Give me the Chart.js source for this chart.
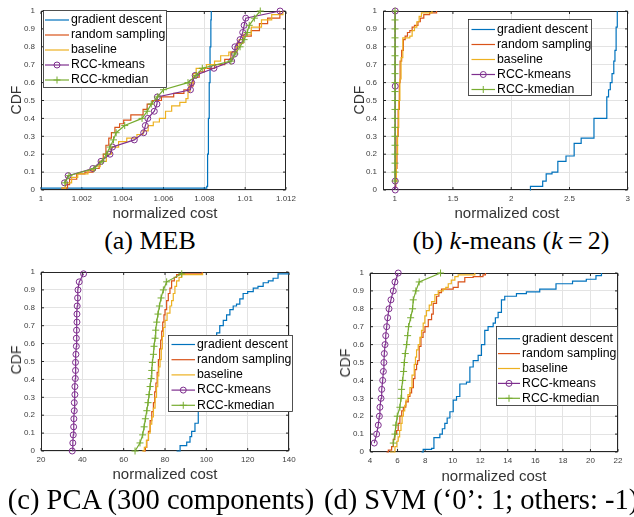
<!DOCTYPE html>
<html lang="en">
<head>
<meta charset="UTF-8">
<title>CDF of normalized cost</title>
<script src="https://cdn.jsdelivr.net/npm/chart.js@4.4.0/dist/chart.umd.min.js"></script>
<style>
  body { margin: 0; background: #fff; }
  #page { position: relative; width: 634px; height: 517px; overflow: hidden; font-family: "Liberation Sans", Arial, sans-serif; }
  #page canvas { position: absolute; }
  .ytitle { position: absolute; transform: translate(-50%, -50%) rotate(-90deg); font-size: 14px; color: #333; white-space: nowrap; }
  .xtitle { position: absolute; transform: translate(-50%, -50%); font-size: 15px; color: #333; white-space: nowrap; }
  .caption { position: absolute; transform: translateY(-50%); font-family: "Liberation Serif", "Times New Roman", serif; font-size: 26px; color: #000; white-space: nowrap; }
  .caption.c { transform: translate(-50%, -50%); }
  .caption.big { font-size: 28.5px; }
</style>
</head>
<body>
<div id="page">
  <canvas id="cA" width="300" height="220" style="left:0px;top:0px"></canvas>
  <canvas id="cB" width="292" height="220" style="left:342px;top:0px"></canvas>
  <canvas id="cC" width="300" height="220" style="left:0px;top:261px"></canvas>
  <canvas id="cD" width="305" height="220" style="left:329px;top:262px"></canvas>

  <div class="ytitle" style="left:16px;top:100px">CDF</div>
  <div class="ytitle" style="left:359px;top:100px">CDF</div>
  <div class="ytitle" style="left:16px;top:360px">CDF</div>
  <div class="ytitle" style="left:345px;top:363px">CDF</div>
  <div class="xtitle" style="left:165px;top:212px">normalized cost</div>
  <div class="xtitle" style="left:507px;top:212px">normalized cost</div>
  <div class="xtitle" style="left:165px;top:473px">normalized cost</div>
  <div class="xtitle" style="left:494px;top:475px">normalized cost</div>

  <div class="caption c" style="left:150px;top:241px">(a) MEB</div>
  <div class="caption c" style="left:511px;top:241px">(b) <i>k</i>-means (<i>k</i>&#8201;=&#8201;2)</div>
  <div class="caption c big" style="left:161px;top:500px">(c) PCA (300 components)</div>
  <div class="caption big" style="left:324px;top:500px">(d) SVM (‘0’: 1; others: -1)</div>
</div>

<script>
// ---------- series ----------
const seriesNames = ['gradient descent', 'random sampling', 'baseline', 'RCC-kmeans', 'RCC-kmedian'];
const seriesColors = ['#0072BD', '#D95319', '#EDB120', '#7E2F8E', '#77AC30'];
const cdfTicks = [0, 0.1, 0.2, 0.3, 0.4, 0.5, 0.6, 0.7, 0.8, 0.9, 1];

// (a) MEB
const mebTicks = [1, 1.002, 1.004, 1.006, 1.008, 1.01, 1.012];
const mebGdX = [1.0, 1.0081, 1.00812, 1.00816, 1.0082, 1.00824, 1.00828, 1.00832, 1.00834];
const mebGdY = [0.01, 0.01, 0.02, 0.2, 0.4, 0.6, 0.8, 0.95, 1.0];
const mebRsX = [1.001, 1.0013, 1.0014, 1.00175, 1.00215, 1.00255, 1.00285, 1.00305, 1.00318, 1.00332, 1.00345, 1.00362, 1.00385, 1.00405, 1.0044, 1.005, 1.0052, 1.00545, 1.0059, 1.0065, 1.007, 1.00725, 1.00745, 1.00775, 1.008, 1.0085, 1.009, 1.0093, 1.0096, 1.0099, 1.0103, 1.0107, 1.0111, 1.0117];
const mebRsY = [0.01, 0.03, 0.06, 0.09, 0.1, 0.12, 0.16, 0.2, 0.25, 0.29, 0.32, 0.35, 0.37, 0.39, 0.42, 0.45, 0.48, 0.5, 0.52, 0.54, 0.56, 0.58, 0.63, 0.66, 0.68, 0.7, 0.73, 0.77, 0.82, 0.86, 0.89, 0.93, 0.96, 1.0];
const mebBlX = [1.001, 1.0012, 1.0015, 1.0018, 1.0023, 1.00265, 1.0029, 1.0032, 1.00345, 1.0038, 1.0042, 1.0047, 1.005, 1.00525, 1.0055, 1.0058, 1.0061, 1.0064, 1.0068, 1.0071, 1.0072, 1.0073, 1.00745, 1.0076, 1.0081, 1.0085, 1.0088, 1.0092, 1.00955, 1.0097, 1.0099, 1.0103, 1.0108, 1.0113, 1.01185];
const mebBlY = [0.01, 0.04, 0.07, 0.09, 0.11, 0.13, 0.16, 0.2, 0.24, 0.27, 0.29, 0.31, 0.33, 0.36, 0.38, 0.4, 0.44, 0.47, 0.49, 0.51, 0.55, 0.6, 0.65, 0.68, 0.7, 0.72, 0.75, 0.77, 0.8, 0.84, 0.87, 0.91, 0.95, 0.98, 1.0];
const mebKmX = [1.00115, 1.00133, 1.00254, 1.00294, 1.00338, 1.0035, 1.00457, 1.00503, 1.00511, 1.00523, 1.00555, 1.00568, 1.0057, 1.00732, 1.00738, 1.00755, 1.00847, 1.00934, 1.00948, 1.0095, 1.00975, 1.00988, 1.00995, 1.01003, 1.01171];
const mebKmY = [0.04, 0.08, 0.12, 0.16, 0.2, 0.24, 0.28, 0.32, 0.36, 0.4, 0.44, 0.48, 0.52, 0.56, 0.6, 0.64, 0.68, 0.72, 0.76, 0.8, 0.84, 0.88, 0.92, 0.96, 1.0];
const mebKdX = [1.00117, 1.00137, 1.0026, 1.003, 1.0032, 1.00338, 1.00355, 1.00368, 1.0041, 1.00495, 1.0052, 1.0054, 1.0057, 1.006, 1.0072, 1.0076, 1.0079, 1.0093, 1.0095, 1.00975, 1.00995, 1.0101, 1.0102, 1.01045, 1.01074];
const mebKdY = [0.04, 0.08, 0.12, 0.16, 0.2, 0.24, 0.28, 0.32, 0.36, 0.4, 0.44, 0.48, 0.52, 0.56, 0.6, 0.64, 0.68, 0.72, 0.76, 0.8, 0.84, 0.88, 0.92, 0.96, 1.0];

// (b) k-means (k = 2)
const kmTicks = [1, 1.5, 2, 2.5, 3];
const kmGdX = [2.16, 2.165, 2.27, 2.3, 2.35, 2.4, 2.47, 2.54, 2.6, 2.71, 2.82, 2.835, 2.85, 2.865, 2.88, 2.89, 2.9, 2.91];
const kmGdY = [0.0, 0.02, 0.05, 0.09, 0.1, 0.16, 0.19, 0.26, 0.29, 0.4, 0.52, 0.56, 0.6, 0.65, 0.72, 0.78, 0.91, 1.0];
const kmRsX = [1.0, 1.01, 1.02, 1.03, 1.04, 1.047, 1.06, 1.075, 1.09, 1.11, 1.13, 1.15, 1.17, 1.2, 1.22, 1.25, 1.3, 1.36];
const kmRsY = [0.02, 0.12, 0.3, 0.45, 0.6, 0.72, 0.78, 0.84, 0.86, 0.88, 0.89, 0.91, 0.92, 0.94, 0.96, 0.98, 0.99, 1.0];
const kmBlX = [1.005, 1.015, 1.025, 1.035, 1.045, 1.055, 1.07, 1.1, 1.13, 1.15, 1.17, 1.19, 1.21, 1.23, 1.28, 1.32];
const kmBlY = [0.05, 0.2, 0.35, 0.5, 0.62, 0.74, 0.85, 0.85, 0.86, 0.89, 0.91, 0.94, 0.97, 0.99, 0.99, 1.0];
const kmKmX = [1.005, 1.005, 1.005, 1.005];
const kmKmY = [0.0, 0.05, 0.58, 1.0];
const kmKdX = [1.003, 1.003, 1.003, 1.003, 1.003, 1.003, 1.003, 1.003, 1.003, 1.003, 1.003, 1.003, 1.003, 1.003, 1.003, 1.003, 1.003, 1.003, 1.003, 1.003];
const kmKdY = [0.05, 0.1, 0.15, 0.2, 0.25, 0.3, 0.35, 0.4, 0.45, 0.5, 0.55, 0.6, 0.65, 0.7, 0.75, 0.8, 0.85, 0.9, 0.95, 1.0];

// (c) PCA (300 components)
const pcaTicks = [20, 40, 60, 80, 100, 120, 140];
const pcaGdX = [85.6, 87.3, 89.5, 90.5, 92.1, 92.9, 94.5, 96.1, 97.0, 98.5, 100.5, 102.0, 103.5, 105.0, 106.5, 108.2, 109.8, 111.4, 113.0, 114.6, 116.2, 117.8, 120.0, 122.7, 125.0, 127.5, 130.0, 132.3, 134.7, 140.0];
const pcaGdY = [0.0, 0.03, 0.03, 0.05, 0.08, 0.11, 0.155, 0.23, 0.32, 0.38, 0.45, 0.52, 0.6, 0.66, 0.7, 0.73, 0.76, 0.79, 0.81, 0.82, 0.85, 0.88, 0.89, 0.91, 0.92, 0.94, 0.95, 0.965, 0.99, 0.99];
const pcaRsX = [69.5, 70.5, 71.2, 72.0, 72.8, 73.6, 74.4, 75.0, 75.6, 76.2, 76.8, 77.4, 77.9, 78.4, 78.9, 79.5, 80.0, 80.8, 81.6, 82.4, 83.2, 84.5, 85.6, 87.3, 98.0];
const pcaRsY = [0.0, 0.02, 0.06, 0.11, 0.17, 0.22, 0.27, 0.33, 0.38, 0.44, 0.51, 0.57, 0.62, 0.67, 0.72, 0.76, 0.79, 0.84, 0.88, 0.91, 0.95, 0.97, 0.985, 0.99, 1.0];
const pcaBlX = [68.8, 70.0, 71.0, 72.0, 72.8, 73.6, 74.4, 75.2, 75.9, 76.5, 77.0, 77.6, 78.2, 78.7, 79.3, 80.0, 81.0, 82.4, 83.2, 84.0, 84.8, 85.6, 86.8, 88.1, 98.2];
const pcaBlY = [0.0, 0.02, 0.06, 0.1, 0.15, 0.19, 0.24, 0.3, 0.36, 0.42, 0.47, 0.51, 0.57, 0.64, 0.69, 0.73, 0.77, 0.81, 0.84, 0.88, 0.92, 0.95, 0.97, 0.985, 0.995];
const pcaKmX = [35.1, 35.4, 35.6, 35.8, 35.9, 36.1, 36.1, 36.4, 36.4, 36.6, 36.7, 36.7, 36.9, 37.1, 37.1, 37.2, 37.4, 37.4, 37.5, 37.7, 37.9, 38.5, 40.6];
const pcaKmY = [0.0, 0.045, 0.09, 0.135, 0.18, 0.225, 0.27, 0.315, 0.36, 0.405, 0.45, 0.495, 0.54, 0.585, 0.63, 0.675, 0.72, 0.765, 0.81, 0.855, 0.9, 0.945, 0.99];
const pcaKdX = [65.5, 67.9, 69.2, 69.9, 70.5, 71.2, 71.8, 72.3, 72.8, 73.3, 73.6, 73.9, 74.4, 74.7, 75.2, 75.5, 76.0, 76.6, 77.3, 78.1, 79.2, 80.8, 88.1];
const pcaKdY = [0.0, 0.045, 0.09, 0.135, 0.18, 0.225, 0.27, 0.315, 0.36, 0.405, 0.45, 0.495, 0.54, 0.585, 0.63, 0.675, 0.72, 0.765, 0.81, 0.855, 0.9, 0.945, 0.99];

// (d) SVM ('0': 1; others: -1)
const svmTicks = [4, 6, 8, 10, 12, 14, 16, 18, 20, 22];
const svmGdX = [7.74, 7.86, 8.47, 8.64, 8.95, 9.07, 9.25, 9.43, 9.6, 9.8, 10.04, 10.28, 10.52, 11.0, 11.25, 11.49, 11.85, 12.09, 12.33, 12.57, 12.94, 13.1, 13.3, 13.54, 13.78, 14.63, 15.35, 16.32, 17.5, 18.7, 19.7, 20.4, 20.8];
const svmGdY = [0.0, 0.015, 0.02, 0.08, 0.08, 0.1, 0.13, 0.16, 0.19, 0.225, 0.29, 0.31, 0.38, 0.39, 0.475, 0.51, 0.54, 0.6, 0.68, 0.7, 0.72, 0.75, 0.78, 0.85, 0.87, 0.885, 0.895, 0.91, 0.94, 0.955, 0.965, 0.985, 1.0];
const svmRsX = [5.2, 5.33, 5.57, 5.69, 5.8, 5.93, 6.05, 6.17, 6.3, 6.42, 6.6, 6.78, 6.9, 7.02, 7.15, 7.26, 7.38, 7.45, 7.57, 7.7, 7.85, 7.99, 8.23, 8.47, 8.59, 8.83, 9.0, 9.19, 10.04, 10.4, 10.88, 11.49, 12.2, 12.38];
const svmRsY = [0.0, 0.01, 0.03, 0.07, 0.1, 0.12, 0.16, 0.2, 0.23, 0.25, 0.28, 0.31, 0.33, 0.36, 0.41, 0.46, 0.49, 0.51, 0.59, 0.64, 0.67, 0.7, 0.74, 0.77, 0.83, 0.87, 0.89, 0.91, 0.92, 0.95, 0.975, 0.98, 0.99, 1.0];
const svmBlX = [5.45, 5.81, 5.95, 6.05, 6.15, 6.25, 6.33, 6.42, 6.52, 6.61, 6.75, 6.9, 7.05, 7.21, 7.3, 7.38, 7.5, 7.62, 7.74, 7.86, 7.98, 8.1, 8.3, 8.47, 8.71, 8.95, 9.31, 9.5, 9.68, 9.9, 10.16, 10.4, 11.61];
const svmBlY = [0.0, 0.03, 0.06, 0.085, 0.12, 0.16, 0.2, 0.23, 0.26, 0.29, 0.32, 0.36, 0.43, 0.49, 0.53, 0.57, 0.6, 0.64, 0.68, 0.72, 0.76, 0.79, 0.82, 0.84, 0.88, 0.9, 0.91, 0.92, 0.94, 0.96, 0.98, 0.99, 1.0];
const svmKmX = [4.31, 4.48, 4.6, 4.68, 4.72, 4.8, 4.85, 4.92, 4.97, 5.01, 5.04, 5.09, 5.14, 5.21, 5.28, 5.38, 5.52, 5.69, 5.81, 6.05];
const svmKmY = [0.05, 0.1, 0.15, 0.2, 0.25, 0.3, 0.35, 0.4, 0.45, 0.5, 0.55, 0.6, 0.65, 0.7, 0.75, 0.8, 0.85, 0.9, 0.95, 1.0];
const svmKdX = [5.69, 5.81, 5.88, 5.98, 6.17, 6.25, 6.29, 6.37, 6.44, 6.49, 6.56, 6.66, 6.73, 6.8, 6.95, 7.09, 7.14, 7.33, 7.57, 9.12];
const svmKdY = [0.05, 0.1, 0.15, 0.2, 0.25, 0.3, 0.35, 0.4, 0.45, 0.5, 0.55, 0.6, 0.65, 0.7, 0.75, 0.8, 0.85, 0.9, 0.95, 1.0];

// ---------- drawing ----------
const family = "'Liberation Sans', Arial, Helvetica, sans-serif";
Chart.defaults.font.family = family;

function xy(xs, ys) {
  return xs.map(function (x, i) { return { x: x, y: ys[i] }; });
}

function buildDatasets(list) {
  return list.map(function (s, i) {
    const ds = {
      label: seriesNames[i],
      data: xy(s[0], s[1]),
      borderColor: seriesColors[i],
      backgroundColor: seriesColors[i],
      borderWidth: 1.2,
      showLine: true,
      fill: false,
      tension: 0,
      clip: false,
      order: 4 - i
    };
    if (i < 3) {
      ds.stepped = true;
      ds.pointRadius = 0;
    } else if (i === 3) {
      ds.pointStyle = 'circle';
      ds.pointRadius = 3;
      ds.pointBorderWidth = 1;
      ds.pointBackgroundColor = 'rgba(0,0,0,0)';
    } else {
      ds.pointStyle = 'cross';
      ds.pointRadius = 3.5;
      ds.pointBorderWidth = 1;
    }
    return ds;
  });
}

// axes box with inward ticks, like matlab
const frame = {
  id: 'frame',
  beforeDatasetsDraw(chart) {
    const a = chart.chartArea, ctx = chart.ctx;
    const l = Math.round(a.left) + 0.5, t = Math.round(a.top) + 0.5;
    const r = Math.round(a.right) - 0.5, b = Math.round(a.bottom) - 0.5;
    ctx.save();
    ctx.strokeStyle = '#262626';
    ctx.lineWidth = 1;
    ctx.strokeRect(l, t, r - l, b - t);
    ctx.beginPath();
    chart.scales.x.ticks.forEach(function (tk) {
      const px = chart.scales.x.getPixelForValue(tk.value);
      ctx.moveTo(px, b); ctx.lineTo(px, b - 2.5);
      ctx.moveTo(px, t); ctx.lineTo(px, t + 2.5);
    });
    chart.scales.y.ticks.forEach(function (tk) {
      const py = chart.scales.y.getPixelForValue(tk.value);
      ctx.moveTo(l, py); ctx.lineTo(l + 2.5, py);
      ctx.moveTo(r, py); ctx.lineTo(r - 2.5, py);
    });
    ctx.stroke();
    ctx.restore();
  }
};

// legend box drawn inside the axes
const boxLegend = {
  id: 'boxLegend',
  afterDatasetsDraw(chart, args, o) {
    if (!o || !o.box) return;
    const ctx = chart.ctx, bx = o.box;
    ctx.save();
    ctx.fillStyle = '#fff';
    ctx.fillRect(bx[0], bx[1], bx[2] - bx[0], bx[3] - bx[1]);
    ctx.strokeStyle = '#262626';
    ctx.lineWidth = 0.8;
    ctx.strokeRect(bx[0] + 0.5, bx[1] + 0.5, bx[2] - bx[0] - 1, bx[3] - bx[1] - 1);
    chart.data.datasets.forEach(function (ds, i) {
      const y = o.row0 + i * o.rowGap;
      ctx.strokeStyle = ds.borderColor;
      ctx.lineWidth = ds.borderWidth;
      ctx.beginPath();
      ctx.moveTo(o.line[0], y);
      ctx.lineTo(o.line[1], y);
      ctx.stroke();
      if (ds.pointRadius > 0) {
        ctx.fillStyle = 'rgba(0,0,0,0)';
        ctx.lineWidth = ds.pointBorderWidth;
        Chart.helpers.drawPoint(ctx, { pointStyle: ds.pointStyle, radius: ds.pointRadius, borderWidth: ds.pointBorderWidth, rotation: 0 }, (o.line[0] + o.line[1]) / 2, y);
      }
      ctx.fillStyle = '#000';
      ctx.font = '12.3px ' + family;
      ctx.textBaseline = 'middle';
      ctx.textAlign = 'left';
      ctx.fillText(ds.label, o.textX, y);
    });
    ctx.restore();
  }
};

function axis(min, max, ticks, isX, pad) {
  return {
    type: 'linear',
    position: isX ? 'bottom' : 'left',
    min: min,
    max: max,
    afterBuildTicks: function (s) { s.ticks = ticks.map(function (v) { return { value: v }; }); },
    afterFit: function (s) { if (isX) { s.height = 30; } else { s.width = 41; } },
    grid: { color: '#e3e3e3', lineWidth: 1, drawTicks: false },
    border: { display: false },
    ticks: {
      autoSkip: false,
      maxRotation: 0,
      padding: pad,
      color: '#404040',
      font: { size: 8, family: family },
      callback: function (v) { return String(v); }
    }
  };
}

function makeChart(id, xmin, xmax, xticks, series, padRight, legend) {
  return new Chart(document.getElementById(id), {
    type: 'scatter',
    data: { datasets: buildDatasets(series) },
    options: {
      responsive: false,
      animation: false,
      devicePixelRatio: 1,
      layout: { padding: { top: 11, right: padRight, left: 0, bottom: 0 } },
      scales: {
        x: axis(xmin, xmax, xticks, true, 4),
        y: axis(0, 1, cdfTicks, false, 6)
      },
      plugins: {
        legend: { display: false },
        tooltip: { enabled: false },
        boxLegend: legend
      }
    },
    plugins: [frame, boxLegend]
  });
}

makeChart('cA', 1, 1.012, mebTicks,
  [[mebGdX, mebGdY], [mebRsX, mebRsY], [mebBlX, mebBlY], [mebKmX, mebKmY], [mebKdX, mebKdY]], 11,
  { box: [43, 10, 167, 88], row0: 20, rowGap: 15, line: [45, 69], textX: 71 });

makeChart('cB', 0.9, 3, kmTicks,
  [[kmGdX, kmGdY], [kmRsX, kmRsY], [kmBlX, kmBlY], [kmKmX, kmKmY], [kmKdX, kmKdY]], 4,
  { box: [126, 19, 250, 96], row0: 29.5, rowGap: 15, line: [129.5, 153], textX: 155 });

makeChart('cC', 20, 140, pcaTicks,
  [[pcaGdX, pcaGdY], [pcaRsX, pcaRsY], [pcaBlX, pcaBlY], [pcaKmX, pcaKmY], [pcaKdX, pcaKdY]], 11,
  { box: [168, 74, 293, 151], row0: 83.5, rowGap: 15.2, line: [171.5, 195], textX: 197 });

makeChart('cD', 4, 22, svmTicks,
  [[svmGdX, svmGdY], [svmRsX, svmRsY], [svmBlX, svmBlY], [svmKmX, svmKmY], [svmKdX, svmKdY]], 16,
  { box: [167, 64, 289, 144], row0: 76.7, rowGap: 14.9, line: [169, 191], textX: 193 });
</script>
</body>
</html>
